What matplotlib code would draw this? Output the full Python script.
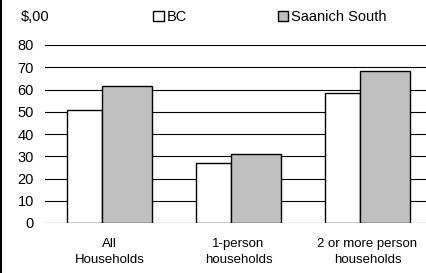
import numpy as np
import matplotlib
matplotlib.use("Agg")
import matplotlib.pyplot as plt
from matplotlib.lines import Line2D

plt.rcParams["font.family"] = ["Liberation Sans", "DejaVu Sans"]

# Data
categories = ["All\nHouseholds", "1-person\nhouseholds", "2 or more person\nhouseholds"]
bc = [50.7, 26.8, 58.6]
saanich_south = [61.7, 31.0, 68.3]
y_ticks = [0, 10, 20, 30, 40, 50, 60, 70, 80]

fig = plt.figure(figsize=(4.27, 2.73), dpi=100)
ax = fig.add_axes([45 / 427, 1 - 223 / 273, 387 / 427, 178 / 273])

x = np.arange(len(categories))
b1 = ax.bar(x - 0.328, bc, width=0.267, align="edge", color="white",
            edgecolor="black", linewidth=1.0, label="BC", zorder=3)
b2 = ax.bar(x - 0.061, saanich_south, width=0.39, align="edge", color="#c0c0c0",
            edgecolor="black", linewidth=1.0, label="Saanich South", zorder=3)

ax.set_xlim(-0.5, 2.5)
ax.set_ylim(0, 80)
ax.set_yticks(y_ticks)
ax.set_xticks(x)
ax.set_xticklabels(categories, fontsize=9.5, linespacing=1.4)
ax.tick_params(axis="y", length=0, pad=8, labelsize=10.5)
ax.tick_params(axis="x", length=0, pad=11)
ax.yaxis.grid(True, color="black", linewidth=0.8)
ax.set_axisbelow(True)
for s in ax.spines.values():
    s.set_visible(False)

fig.text(21 / 427, 1 - 17 / 273, "$,00", fontsize=10.5, va="center", ha="left")
fig.legend(handles=[b1, b2], loc="center left", bbox_to_anchor=(153 / 427, 1 - 17 / 273),
           ncol=2, frameon=False, fontsize=10.5, handlelength=0.75, handleheight=0.75,
           handletextpad=0.2, columnspacing=6.2, borderaxespad=0, borderpad=0)

# left edge of the surrounding frame
fig.add_artist(Line2D([0.003, 0.003], [0, 1], color="black", linewidth=1.5,
                      transform=fig.transFigure))

fig.savefig("out.png", dpi=100)
